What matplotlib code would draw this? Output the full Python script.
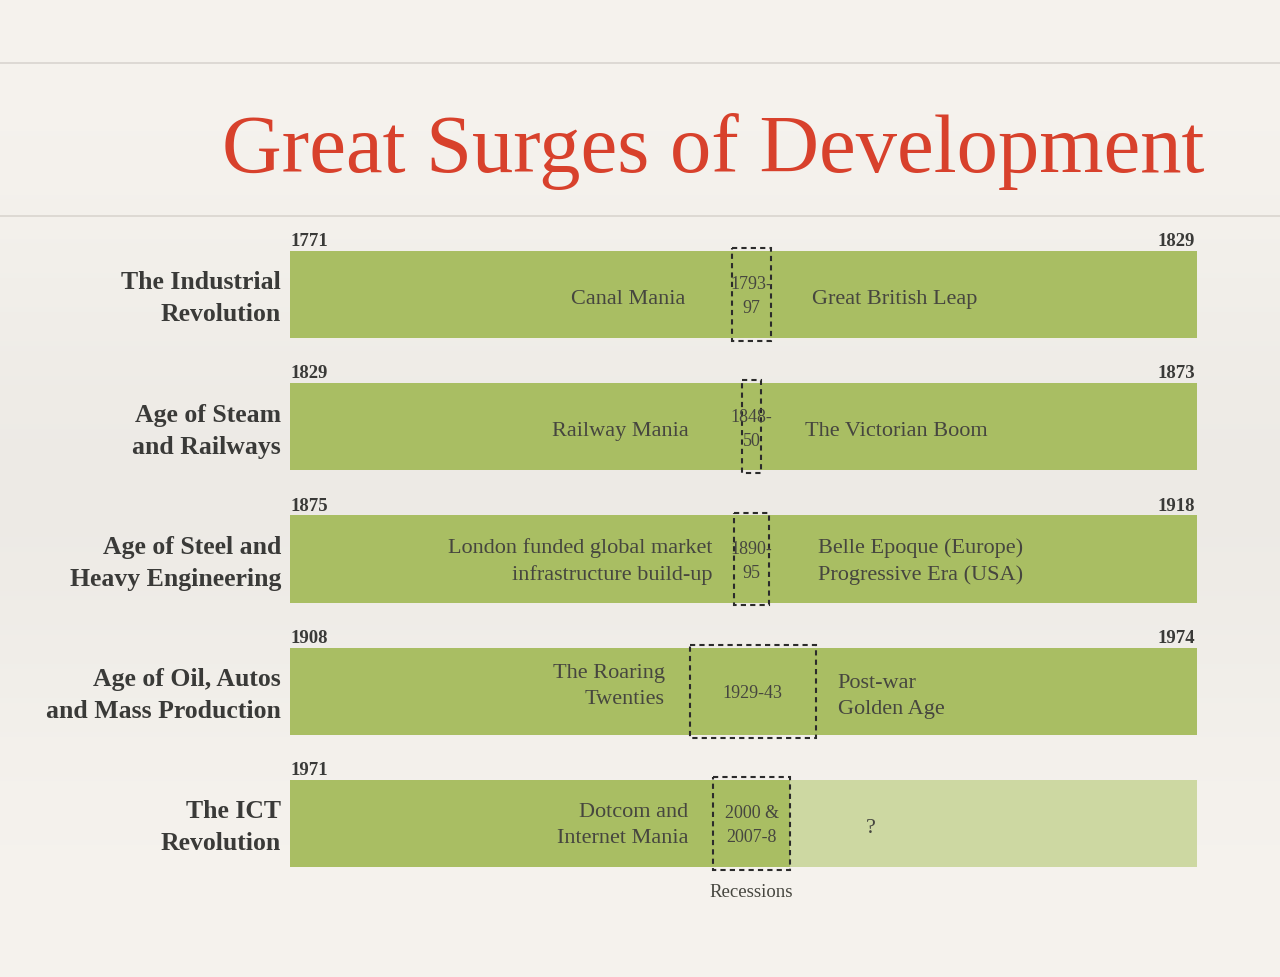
import matplotlib
matplotlib.use("Agg")
import matplotlib.pyplot as plt
import numpy as np
from matplotlib.patches import Rectangle

# ---------------- data ----------------
row_labels = ["The Industrial\nRevolution", "Age of Steam\nand Railways",
              "Age of Steel and\nHeavy Engineering", "Age of Oil, Autos\nand Mass Production",
              "The ICT\nRevolution"]
start_years = ["1771", "1829", "1875", "1908", "1971"]
end_years = ["1829", "1873", "1918", "1974", ""]
mania_labels = ["Canal Mania", "Railway Mania",
                "London funded global market\ninfrastructure build-up",
                "The Roaring\nTwenties", "Dotcom and\nInternet Mania"]
recession_labels = ["1793-\n97", "1848-\n50", "1890-\n95", "1929-43", "2000 &\n2007-8"]
golden_labels = ["Great British Leap", "The Victorian Boom",
                 "Belle Epoque (Europe)\nProgressive Era (USA)",
                 "Post-war\nGolden Age", "?"]
# bar extents on a 0..1 scale across each row
dark_length = [1.0, 1.0, 1.0, 1.0, 0.551]
light_length = [0.0, 0.0, 0.0, 0.0, 0.449]
# recession boxes (centre, width) on the same 0..1 scale
recession_center = [0.509, 0.509, 0.509, 0.510, 0.509]
recession_width = [0.043, 0.021, 0.039, 0.139, 0.085]
# text anchor positions on the 0..1 scale
mania_right = [0.4355, 0.440, 0.466, 0.413, 0.439]
golden_left = [0.5755, 0.568, 0.582, 0.604, 0.635]
# vertical offsets (row units) of the labels
mania_dy = [0.03, 0.03, 0.01, -0.04, 0.01]
golden_dy = [0.03, 0.03, 0.01, 0.03, 0.03]

# ---------------- style ----------------
W, H = 1280, 978
BG = "#f6f3ee"
GREEN = "#a9be63"
LIGHT_GREEN = "#cdd8a2"
TXT = "#46463f"
LABEL = "#3a3a38"
RED = "#d8412c"
SERIF = ["Liberation Serif", "DejaVu Serif"]

fig = plt.figure(figsize=(W / 100, H / 100), dpi=100)
fig.patch.set_facecolor(BG)

# background with soft gradient
bg = fig.add_axes([0, 0, 1, 1])
yy = np.linspace(0, 1, 200)
shade = 1 - 0.035 * np.exp(-((yy - 0.5) / 0.25) ** 2)
base = np.array([246, 243, 238]) / 255
img = shade[:, None, None] * base[None, None, :]
img = np.repeat(img, 2, axis=1)
bg.imshow(img, aspect="auto", extent=[0, 1, 0, 1])
bg.set_xlim(0, 1)
bg.set_ylim(0, 1)
bg.axis("off")
# horizontal rules
for ypix in (64, 217):
    bg.axhline(1 - ypix / H, color="#d9d5cf", lw=1.2)
# title
bg.text(713 / W, 1 - 172 / H, "Great Surges of Development", color=RED,
        fontsize=59.5, family=SERIF, ha="center", va="baseline")

# main axes: x 0..1 across bars, y in row units
x0, x1 = 290, 1197
ytop, ybot = 229.4, 890.6
ax = fig.add_axes([x0 / W, 1 - ybot / H, (x1 - x0) / W, (ybot - ytop) / H])
ax.set_xlim(0, 1)
ax.set_ylim(4.5, -0.5)
ax.axis("off")

n = len(row_labels)
ys = np.arange(n)
bar_h = 0.658
ax.barh(ys, dark_length, height=bar_h, color=GREEN, edgecolor="none")
ax.barh(ys, light_length, left=dark_length, height=bar_h, color=LIGHT_GREEN, edgecolor="none")

box_h = 0.703
for i in range(n):
    c, w = recession_center[i], recession_width[i]
    ax.add_patch(Rectangle((c - w / 2, i - box_h / 2), w, box_h, fill=False,
                           edgecolor="#2b2b2b", lw=1.5, linestyle=(0, (2.5, 2)),
                           clip_on=False, zorder=5))
    ax.text(c, i + 0.01, recession_labels[i], ha="center", va="center", fontsize=13,
            color=TXT, family=SERIF, linespacing=1.55, zorder=6)
    ax.text(mania_right[i], i + mania_dy[i], mania_labels[i], ha="right", va="center",
            fontsize=16, color=TXT, family=SERIF, linespacing=1.5,
            multialignment="right")
    ax.text(golden_left[i], i + golden_dy[i], golden_labels[i], ha="left", va="center",
            fontsize=16, color=TXT, family=SERIF, linespacing=1.5,
            multialignment="left")
    # years
    ax.text(0.0, i - bar_h / 2 - 0.015, start_years[i], ha="left", va="bottom",
            fontsize=13.5, fontweight="bold", color=LABEL, family=SERIF)
    if end_years[i]:
        ax.text(0.998, i - bar_h / 2 - 0.015, end_years[i], ha="right", va="bottom",
                fontsize=13.5, fontweight="bold", color=LABEL, family=SERIF)
    # row labels
    ax.text(-0.0099, i + 0.025, row_labels[i], ha="right", va="center", fontsize=18.5,
            fontweight="bold", color=LABEL, family=SERIF, linespacing=1.5,
            multialignment="right")

ax.text(recession_center[-1], n - 1 + 0.518, "Recessions", ha="center", va="center",
        fontsize=13.5, color=TXT, family=SERIF)

fig.savefig("out.png", dpi=100, facecolor=BG)
